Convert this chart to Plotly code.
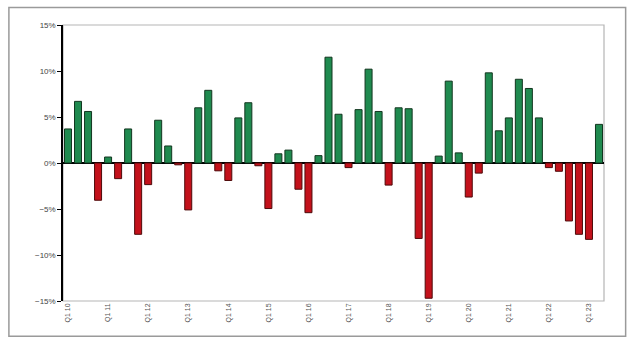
import plotly.graph_objects as go

# Quarterly returns, Q1 2010 through Q2 2023 (percent)
quarters = [f"Q{q} {y % 100:02d}" for y in range(2010, 2024) for q in range(1, 5)][:54]
returns = [
    3.7, 6.7, 5.6, -4.05,
    0.65, -1.7, 3.7, -7.75,
    -2.35, 4.65, 1.85, -0.2,
    -5.1, 6.0, 7.9, -0.85,
    -1.9, 4.9, 6.55, -0.3,
    -4.95, 1.0, 1.4, -2.85,
    -5.4, 0.8, 11.5, 5.3,
    -0.5, 5.8, 10.2, 5.6,
    -2.4, 6.0, 5.9, -8.2,
    -14.7, 0.75, 8.9, 1.1,
    -3.7, -1.1, 9.8, 3.5,
    4.9, 9.1, 8.1, 4.9,
    -0.5, -0.9, -6.3, -7.75,
    -8.3, 4.2,
]
tick_labels = [q for q in quarters if q.startswith("Q1")]

fill = ["#1f8a4f" if v >= 0 else "#c3111b" for v in returns]
edge = ["#12361f" if v >= 0 else "#4d0a0a" for v in returns]

fig = go.Figure(
    go.Bar(
        x=quarters,
        y=returns,
        marker=dict(color=fill, line=dict(color=edge, width=1)),
        hoverinfo="x+y",
    )
)

fig.update_layout(
    width=640,
    height=345,
    margin=dict(l=63, r=36, t=25, b=44),
    paper_bgcolor="white",
    plot_bgcolor="white",
    bargap=0.3,
    showlegend=False,
    font=dict(family="Liberation Sans, Arial, sans-serif", size=8, color="#444"),
    xaxis=dict(
        type="category",
        tickmode="array",
        tickvals=tick_labels,
        ticktext=tick_labels,
        tickangle=-90,
        tickfont=dict(size=7, color="#555"),
        showgrid=False,
        showline=False,
        ticks="",
        range=[-0.5, len(quarters) - 0.5],
    ),
    yaxis=dict(
        range=[-15, 15],
        dtick=5,
        ticksuffix="%",
        showgrid=False,
        showline=True,
        linecolor="black",
        linewidth=1.5,
        ticks="outside",
        ticklen=4,
        tickcolor="black",
        zeroline=True,
        zerolinecolor="black",
        zerolinewidth=2,
        tickfont=dict(size=8, color="#444"),
    ),
    shapes=[
        # plot-area frame
        dict(type="rect", xref="paper", yref="paper", x0=0, x1=1, y0=0, y1=1,
             line=dict(color="#b5b5b5", width=1.2), layer="below"),
        # outer chart frame
        dict(type="rect", xref="paper", yref="paper",
             x0=-0.1, x1=1.04, y0=-0.128, y1=1.063,
             line=dict(color="#9a9a9a", width=1.5), layer="below"),
    ],
)

fig.write_html("out.html")
